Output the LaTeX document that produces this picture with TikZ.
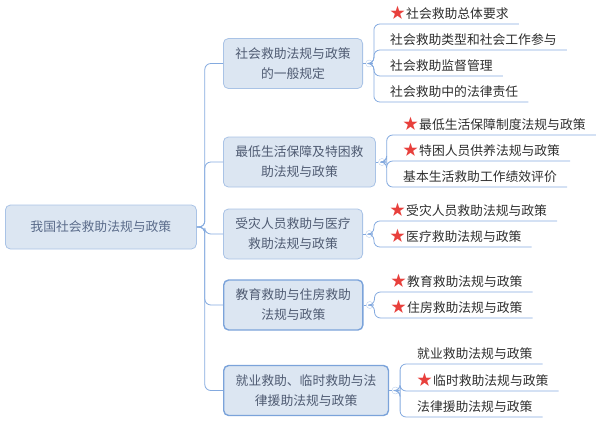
\documentclass[tikz,border=0pt]{standalone}
\usepackage{fontspec}
\setmainfont{Noto Sans CJK SC}
\usetikzlibrary{positioning}
\definecolor{boxfill}{HTML}{DCE6F2}
\definecolor{boxline}{HTML}{A9C3E6}
\definecolor{boxlinedark}{HTML}{7BA3DA}
\definecolor{linkblue}{HTML}{84AADF}
\definecolor{boxtext}{HTML}{4F5B72}
\definecolor{roottext}{HTML}{5A6B8A}
\definecolor{leaftext}{HTML}{2E2E2E}
\definecolor{starred}{HTML}{E8403C}
\newcommand{\imp}{{\color{starred}\fontsize{15}{20}\selectfont ★}\hspace{1pt}}

\begin{document}
\begin{tikzpicture}[
        x=1pt, y=-1pt,
        font=\fontsize{12.8}{20}\selectfont,
        topic/.style={draw=boxline, line width=0.8pt, fill=boxfill, rounded corners=5pt, text=boxtext, align=center, inner xsep=12pt},
        branch/.style={topic, anchor=west, minimum height=50pt},
        picked/.style={draw=boxlinedark, line width=1.4pt},
        leaf/.style={anchor=south west, inner xsep=0pt, inner ysep=4.5pt, text=leaftext, execute at begin node={\hspace*{16pt}}, execute at end node={\hspace*{10pt}}},
        fold/.style={circle, draw=linkblue!55, fill=white, minimum size=7pt, inner sep=0pt, right=2.5pt of #1,
            path picture={\draw[linkblue!55] ([xshift=-2pt]path picture bounding box.center) -- ([xshift=2pt]path picture bounding box.center);}},
        link/.style={draw=linkblue, line width=0.8pt, rounded corners=6pt}
    ]
    \useasboundingbox (0,0) rectangle (598,424);

    % Root
    \node[topic, text=roottext, anchor=west, minimum width=191pt, minimum height=44pt] (root) at (5,227) {我国社会救助法规与政策};

    % Branches
    \node[branch] (b1) at (223,63.5) {社会救助法规与政策\\的一般规定};
    \node[branch] (b2) at (223,162) {最低生活保障及特困救\\助法规与政策};
    \node[branch] (b3) at (223,234) {受灾人员救助与医疗\\救助法规与政策};
    \node[branch, picked] (b4) at (223,305) {教育救助与住房救助\\法规与政策};
    \node[branch, picked] (b5) at (223,390.5) {就业救助、临时救助与法\\律援助法规与政策};

    \foreach \b in {b1,b2,b3,b4,b5}
        \draw[link] (root.east) -- ++(8,0) |- (\b.west);

    % Fold marks
    \foreach \b in {1,...,5}
        \node[fold=b\b] (f\b) {};
    \foreach \b in {1,...,5}
        \draw[link] (b\b.east) -- (f\b.west);

    % Leaves
    \node[leaf] (l11) at (374,24) {\imp 社会救助总体要求};
    \node[leaf] (l12) at (374,50) {社会救助类型和社会工作参与};
    \node[leaf] (l13) at (374,76) {社会救助监督管理};
    \node[leaf] (l14) at (374,102) {社会救助中的法律责任};

    \node[leaf] (l21) at (387,135) {\imp 最低生活保障制度法规与政策};
    \node[leaf] (l22) at (387,161) {\imp 特困人员供养法规与政策};
    \node[leaf] (l23) at (387,187) {基本生活救助工作绩效评价};

    \node[leaf] (l31) at (374,221) {\imp 受灾人员救助法规与政策};
    \node[leaf] (l32) at (374,247) {\imp 医疗救助法规与政策};

    \node[leaf] (l41) at (375,292) {\imp 教育救助法规与政策};
    \node[leaf] (l42) at (375,318) {\imp 住房救助法规与政策};

    \node[leaf] (l51) at (401,364) {就业救助法规与政策};
    \node[leaf] (l52) at (401,391) {\imp 临时救助法规与政策};
    \node[leaf] (l53) at (401,417) {法律援助法规与政策};

    % Links to leaves
    \foreach \l in {1,...,4}
        \draw[link] (f1.east) -- ++(1,0) |- (l1\l.south east);
    \foreach \l in {1,...,3}
        \draw[link] (f2.east) -- ++(1,0) |- (l2\l.south east);
    \foreach \l in {1,2}
        \draw[link] (f3.east) -- ++(1,0) |- (l3\l.south east);
    \foreach \l in {1,2}
        \draw[link] (f4.east) -- ++(1,0) |- (l4\l.south east);
    \foreach \l in {1,...,3}
        \draw[link] (f5.east) -- ++(1,0) |- (l5\l.south east);

\end{tikzpicture}
\end{document}
